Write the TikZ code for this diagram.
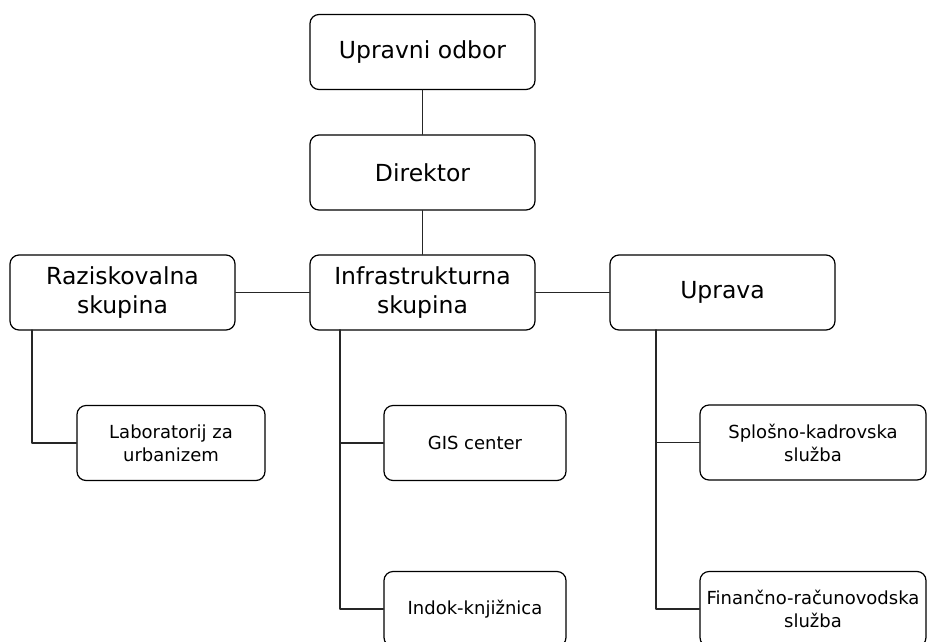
\documentclass[tikz,border=0pt]{standalone}
\usepackage{fontspec}
\setmainfont{DejaVu Sans}
\usetikzlibrary{positioning}

\begin{document}
\begin{tikzpicture}[line cap=round,line join=round,x=1pt,y=-1pt,
    bigbox/.style={draw=black,line width=1.2pt,rounded corners=9pt,inner sep=0pt,
      minimum width=225pt,minimum height=75pt,align=center,
      font=\fontsize{23.5}{29}\selectfont},
    smallbox/.style={draw=black,line width=1.2pt,rounded corners=9pt,inner sep=0pt,
      minimum height=75pt,align=center,font=\fontsize{18}{23}\selectfont},
    link/.style={line width=1.2pt,color=black!85}]
      \useasboundingbox (0,0) rectangle (927,641);
      \clip (0,0) rectangle (927,641);
      % top levels
      \node[bigbox] (odbor) at (422.5,52) {Upravni odbor};
      \node[bigbox] (dir) at (422.5,172.5) {Direktor};
      \node[bigbox] (razi) at (122.5,292.5) {Raziskovalna\\skupina};
      \node[bigbox] (infra) at (422.5,292.5) {Infrastrukturna\\skupina};
      \node[bigbox] (uprava) at (722.5,292.5) {Uprava};
      % units
      \node[smallbox,minimum width=188pt] (lab) at (171,443) {Laboratorij za\\urbanizem};
      \node[smallbox,minimum width=182pt] (gis) at (475,443) {GIS center};
      \node[smallbox,minimum width=182pt] (indok) at (475,609) {Indok-knjižnica};
      \node[smallbox,minimum width=226pt] (splosno) at (813,442.5) {Splošno-kadrovska\\služba};
      \node[smallbox,minimum width=226pt] (financ) at (813,609) {Finančno-računovodska\\služba};
      \coordinate (rtop) at (32,330);
      \coordinate (itop) at (340,330);
      \coordinate (utop) at (656,330);
      \draw[link] (odbor) -- (dir);
      \draw[link] (dir) -- (infra);
      \draw[link] (razi) -- (infra);
      \draw[link] (infra) -- (uprava);
      \draw[link] (rtop) |- (lab.west);
      \draw[link] (itop) |- (gis.west);
      \draw[link] (itop) |- (indok.west);
      \draw[link] (utop) |- (splosno.west);
      \draw[link] (utop) |- (financ.west);
\end{tikzpicture}
\end{document}
